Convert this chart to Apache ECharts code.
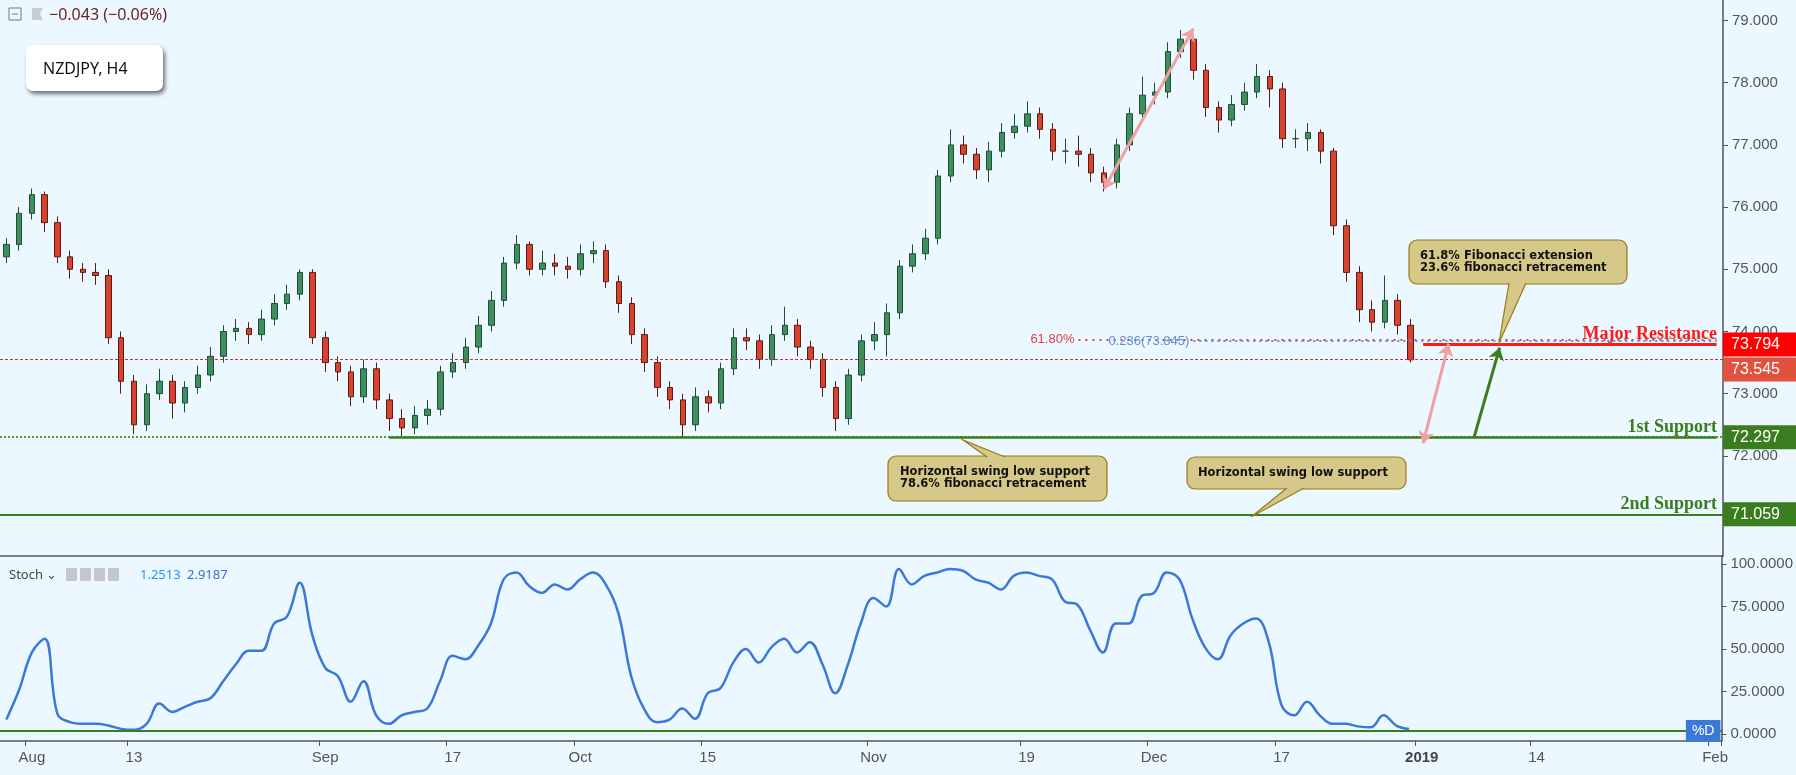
<!DOCTYPE html>
<html><head><meta charset="utf-8">
<script src="https://cdn.jsdelivr.net/npm/echarts@6/dist/echarts.min.js"></script>
<style>html,body{margin:0;padding:0;background:#ebf8ff}#c{width:1796px;height:775px}</style>
</head><body><div id="c"></div>
<script>
// ---- data ----
const firstOpen = 75.20;
const closes = [75.40,75.90,76.20,75.75,75.20,75.00,74.95,74.90,73.90,73.20,72.50,73.00,73.20,72.85,73.10,73.30,73.60,74.00,74.05,73.95,74.20,74.45,74.60,74.95,73.90,73.50,73.35,72.95,73.40,72.90,72.60,72.45,72.65,72.75,73.35,73.50,73.75,74.10,74.50,75.10,75.40,75.00,75.10,75.05,75.00,75.25,75.30,74.80,74.45,73.95,73.50,73.10,72.90,72.50,72.95,72.85,73.40,73.90,73.85,73.55,73.95,74.10,73.75,73.55,73.10,72.60,73.30,73.85,73.95,74.30,75.05,75.25,75.50,76.50,77.00,76.85,76.60,76.90,77.20,77.30,77.50,77.25,76.90,76.90,76.85,76.55,76.40,77.00,77.50,77.80,77.85,78.50,78.70,78.20,77.60,77.40,77.65,77.85,78.10,77.90,77.10,77.10,77.20,76.90,75.70,74.95,74.35,74.15,74.50,74.10,73.545];
const highs = [75.5,76.0,76.3,76.25,75.85,75.3,75.1,75.1,75.0,74.0,73.3,73.15,73.4,73.3,73.2,73.45,73.75,74.1,74.2,74.15,74.35,74.6,74.75,75.0,75.0,74.0,73.6,73.45,73.55,73.5,73.0,72.75,72.8,72.9,73.45,73.65,73.9,74.25,74.65,75.2,75.55,75.45,75.3,75.25,75.2,75.4,75.45,75.4,74.9,74.55,74.05,73.6,73.2,73.0,73.1,73.05,73.5,74.05,74.05,73.95,74.1,74.4,74.2,73.85,73.65,73.2,73.4,73.95,74.15,74.45,75.15,75.4,75.65,76.6,77.25,77.15,76.95,77.05,77.35,77.5,77.7,77.6,77.35,77.1,77.15,76.95,76.65,77.1,77.6,78.1,78.0,78.65,78.85,78.75,78.3,77.7,77.8,78.0,78.3,78.2,78.0,77.25,77.35,77.25,76.95,75.8,75.05,74.5,74.9,74.6,74.2];
const lows = [75.1,75.3,75.8,75.6,75.1,74.85,74.8,74.75,73.8,73.0,72.35,72.4,72.9,72.6,72.7,73.0,73.2,73.5,73.85,73.8,73.85,74.1,74.35,74.5,73.8,73.35,73.2,72.8,72.85,72.75,72.4,72.3,72.35,72.5,72.65,73.25,73.4,73.65,74.0,74.4,75.0,74.9,74.9,74.9,74.85,74.9,75.1,74.7,74.3,73.8,73.35,72.95,72.75,72.3,72.4,72.7,72.75,73.3,73.7,73.4,73.45,73.85,73.6,73.4,72.95,72.4,72.5,73.2,73.7,73.6,74.2,74.95,75.15,75.4,76.4,76.7,76.45,76.4,76.8,77.1,77.2,77.1,76.75,76.7,76.65,76.4,76.25,76.3,76.9,77.4,77.65,77.75,78.4,78.05,77.45,77.2,77.3,77.55,77.75,77.6,76.95,76.95,76.9,76.7,75.55,74.8,74.15,74.0,74.05,73.95,73.5];
const stochD = [8.6,26,48,56,12,7,6,6,5,3,2.5,6,18,13,16,19,21,31,41,49,49,65,69,89,58,39,34,19,31,11,6,11,13,15,31,46,44,52,65,91,95,87,83,88,85,91,95,88,71,34,15,7,8.5,15,9,24,27,42,50,42,51,56,48,54,41,24,41,65,80,75,97,88,93,95,97,96,91,89,85,93,95,93,91,78,76,61,48,65,65,81,83,95,91,68,51,44,58,65,68,54,17,11,19,11,6,6,4.5,4,11,5,3];
const tickLabels = {'2018-08-01':'Aug','2018-08-13':'13','2018-09-03':'Sep','2018-09-17':'17','2018-10-01':'Oct','2018-10-15':'15','2018-11-01':'Nov','2018-11-19':'19','2018-12-03':'Dec','2018-12-17':'17','2019-01-01':'2019','2019-01-14':'14','2019-02-01':'Feb'};
const priceTicks = [71,72,73,74,75,76,77,78,79];
const stochTicks = [0,25,50,75,100];
const levels = {major:73.794, last:73.545, s1:72.297, s2:71.059, fib618:73.87, fib236:73.845, stochLow:1.8};

// categories: weekdays
const dates = [];
for (let d = new Date(Date.UTC(2018,6,30)); d <= new Date(Date.UTC(2019,1,1)); d.setUTCDate(d.getUTCDate()+1)) {
  const w = d.getUTCDay(); if (w===0||w===6) continue;
  dates.push(d.toISOString().slice(0,10));
}
const N = dates.length - 1;
const ohlc = closes.map((c,i)=>[i===0?firstOpen:closes[i-1], c, lows[i], highs[i]]);

const chart = echarts.init(document.getElementById('c'));
const GREEN = '#3a7d1e', RED = '#ff1a1a', PINK = '#f0a0a0';
const HIDE = {color:'rgba(0,0,0,0)',width:0.01,type:'solid'};
const tag = (bg, extra) => Object.assign({show:true, position:'end', distance:0, color:'#fff', backgroundColor:bg, padding:[4,8,4,8], fontSize:16, fontFamily:'Liberation Sans', width:57}, extra||{});
const noLabel = {show:false};
const ttl = (txt,col)=>({show:true, position:'insideEndTop', distance:[6,1], formatter:txt, color:col, fontSize:18, fontWeight:'bold', fontFamily:'Liberation Serif'});

const mlData = [
  {yAxis:levels.s2, lineStyle:{color:GREEN,width:2,type:'solid'}, label:ttl('2nd Support',GREEN)},
  {yAxis:levels.s2+0.0001, lineStyle:HIDE, label:tag(GREEN,{formatter:'71.059'})},
  {yAxis:levels.s1, lineStyle:{color:'#5c9a3c',width:2,type:'dotted'}, label:ttl('1st Support',GREEN)},
  [{coord:[30,levels.s1], lineStyle:{color:GREEN,width:2.5,type:'solid'}, label:noLabel},{coord:[N,levels.s1]}],
  {yAxis:levels.s1+0.0001, lineStyle:HIDE, label:tag(GREEN,{formatter:'72.297'})},
  {yAxis:levels.last, lineStyle:{color:'#c0392b',width:1,type:[3,2]}, label:tag('#e0523e',{formatter:'73.545', offset:[0,10]})},
  [{coord:[84,levels.fib618], lineStyle:{color:'#e04040',width:2,type:[2,5]}, label:{show:true,position:'start',formatter:'61.80%',color:'#e04040',fontSize:13,distance:4}},{coord:[N,levels.fib618]}],
  [{coord:[93,levels.fib236], lineStyle:{color:'#5b8fe0',width:2,type:[2,4]}, label:{show:true,position:'start',formatter:'0.236(73.845)',color:'#5b8fe0',fontSize:13,distance:4}},{coord:[N,levels.fib236]}],
  [{coord:[111,levels.major], lineStyle:{color:RED,width:3,type:'solid'}, label:noLabel},{coord:[N,levels.major]}],
  {yAxis:levels.major+0.0001, lineStyle:HIDE, label:ttl('Major Resistance',RED)},
  {yAxis:levels.major+0.0002, lineStyle:HIDE, label:tag('#ff0000',{formatter:'73.794'})},
  [{coord:[86,76.29], symbol:'arrow', lineStyle:{color:PINK,width:3,type:'solid'}, label:noLabel},{coord:[93,78.87], symbol:'arrow'}],
  [{coord:[111,72.2], symbol:'arrow', lineStyle:{color:PINK,width:3,type:'solid'}, label:noLabel},{coord:[113,73.8], symbol:'arrow'}],
  [{coord:[115,72.3], symbol:'none', lineStyle:{color:GREEN,width:3,type:'solid'}, label:noLabel},{coord:[117,73.74], symbol:'arrow'}]
];

function callout(x,y,w,h,base,tip,lines,tx,ty){
  const fill='#d6c889', st='#9a7a18';
  const els=[
    {type:'rect',shape:{x,y,width:w,height:h,r:8},style:{fill,stroke:st,lineWidth:1.2},z:100},
    {type:'polygon',shape:{points:[base[0],tip,base[1]]},style:{fill},z:101},
    {type:'polyline',shape:{points:[base[0],tip,base[1]]},style:{stroke:st,fill:null,lineWidth:1.2},z:102}
  ];
  lines.forEach((t,i)=>els.push({type:'text',x:tx,y:ty+i*12.5,style:{text:t,fill:'#111',font:'bold 11.5px "DejaVu Sans"',textVerticalAlign:'middle'},z:103}));
  return els;
}

const graphics = [].concat(
  [
    {type:'rect',shape:{x:9,y:8,width:12,height:12},style:{fill:'none',stroke:'#777',lineWidth:1}},
    {type:'line',shape:{x1:12,y1:14,x2:18,y2:14},style:{stroke:'#777',lineWidth:1}},
    {type:'polygon',shape:{points:[[32,8],[43,8],[40,14],[43,20],[32,20]]},style:{fill:'#c8ccd2'}},
    {type:'text',x:49,y:15,style:{text:'\u22120.043 (\u22120.06%)',fill:'#6b1f1f',font:'16px "Noto Sans"',textVerticalAlign:'middle'}},
    {type:'rect',shape:{x:26,y:45,width:137,height:46,r:7},style:{fill:'#fff',shadowBlur:4,shadowOffsetX:2,shadowOffsetY:3,shadowColor:'rgba(0,0,0,0.55)'}},
    {type:'text',x:43,y:69,style:{text:'NZDJPY, H4',fill:'#111',font:'16px "Noto Sans"',textVerticalAlign:'middle'}},
    {type:'text',x:9,y:575,style:{text:'Stoch \u2304',fill:'#444',font:'13px "Noto Sans"',textVerticalAlign:'middle'}},
    {type:'rect',shape:{x:66,y:568,width:11,height:13,r:1},style:{fill:'#c4c8cc'}},
    {type:'rect',shape:{x:80,y:568,width:11,height:13,r:1},style:{fill:'#c4c8cc'}},
    {type:'rect',shape:{x:94,y:568,width:11,height:13,r:1},style:{fill:'#c4c8cc'}},
    {type:'rect',shape:{x:108,y:568,width:11,height:13,r:1},style:{fill:'#c4c8cc'}},
    {type:'text',x:140,y:575,style:{text:'1.2513',fill:'#2196f3',font:'13px "Noto Sans"',textVerticalAlign:'middle'}},
    {type:'text',x:187,y:575,style:{text:'2.9187',fill:'#3a6fd0',font:'13px "Noto Sans"',textVerticalAlign:'middle'}}
  ],
  callout(1409,240,218,44,[[1509,283],[1526,283]],[1499,343],['61.8% Fibonacci extension','23.6% fibonacci retracement'],1420,256),
  callout(888,456,219,45,[[987,457],[1005,457]],[963,440],['Horizontal swing low support','78.6% fibonacci retracement'],900,472),
  callout(1187,457,219,32,[[1287,488],[1304,488]],[1251,517],['Horizontal swing low support'],1198,473)
);

chart.setOption({
  backgroundColor:'#ebf8ff',
  animation:false,
  grid:[{left:0,right:73,top:0,height:556},{left:0,right:73,top:556,height:185}],
  xAxis:[
    {type:'category',data:dates,gridIndex:0,axisLine:{show:true,onZero:false,lineStyle:{color:'#555',width:1.5}},axisTick:{show:false},axisLabel:{show:false},splitLine:{show:false}},
    {type:'category',data:dates,gridIndex:1,axisLine:{show:true,onZero:false,lineStyle:{color:'#555',width:1.5}},
     axisTick:{show:true,interval:(i,v)=>!!tickLabels[v],lineStyle:{color:'#555'},length:5},
     axisLabel:{interval:(i,v)=>!!tickLabels[v],formatter:v=>v==='2019-01-01'?'{b|2019}':(tickLabels[v]||''),color:'#555',fontSize:15,fontFamily:'Liberation Sans',margin:9,rich:{b:{fontWeight:'bold',fontSize:15,color:'#444'}}},
     splitLine:{show:false}}
  ],
  yAxis:[
    {type:'value',gridIndex:0,position:'right',min:70.39,max:79.33,splitLine:{show:false},
     axisLine:{show:true,lineStyle:{color:'#555',width:1.5}},
     axisTick:{show:true,customValues:priceTicks,length:5,lineStyle:{color:'#555'}},
     axisLabel:{customValues:priceTicks,formatter:v=>v.toFixed(3),color:'#555',fontSize:15,fontFamily:'Liberation Sans',margin:9}},
    {type:'value',gridIndex:1,position:'right',min:-4.1,max:104.7,splitLine:{show:false},
     axisLine:{show:true,lineStyle:{color:'#555',width:1.5}},
     axisTick:{show:true,customValues:stochTicks,length:5,lineStyle:{color:'#555'}},
     axisLabel:{customValues:stochTicks,formatter:v=>v.toFixed(4),color:'#555',fontSize:15,fontFamily:'Liberation Sans',margin:9}}
  ],
  series:[
    {type:'candlestick',xAxisIndex:0,yAxisIndex:0,data:ohlc,barWidth:6,
     itemStyle:{color:'#3f8f5e',color0:'#d8432f',borderColor:'#1f4d33',borderColor0:'#5c1a12',borderWidth:1},
     markLine:{silent:true,symbol:'none',symbolSize:12,data:mlData}},
    {type:'line',xAxisIndex:1,yAxisIndex:1,data:stochD,smooth:0.4,showSymbol:false,lineStyle:{color:'#3c78d8',width:2.5},
     markLine:{silent:true,symbol:'none',data:[
       [{coord:[10,levels.stochLow],lineStyle:{color:GREEN,width:2,type:'solid'},label:noLabel},{coord:[N,levels.stochLow]}],
       {yAxis:levels.stochLow,lineStyle:{color:GREEN,width:2,type:'solid'},label:{show:true,position:'insideEnd',distance:[1,0],formatter:'%D',color:'#fff',backgroundColor:'#3c78d8',padding:[4,6,4,6],fontSize:14}}
     ]}}
  ],
  graphic:graphics
});
</script></body></html>
